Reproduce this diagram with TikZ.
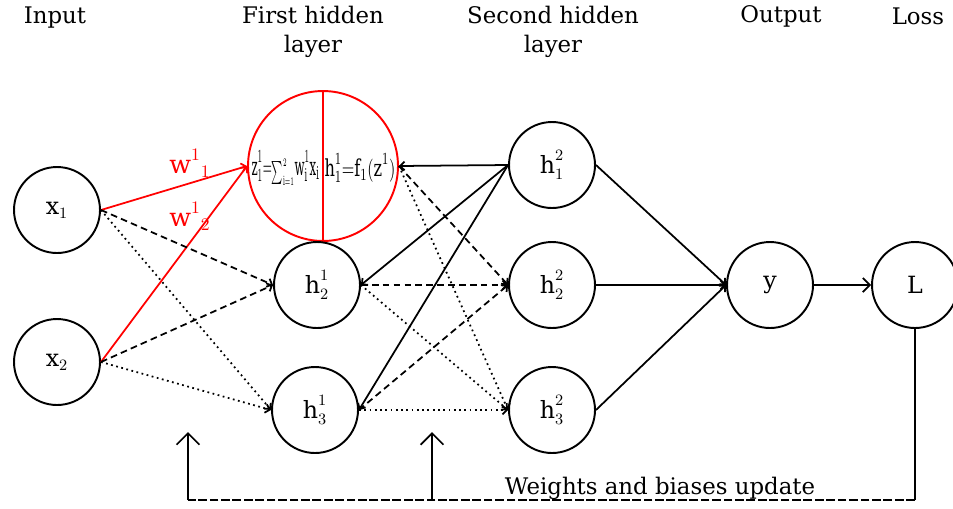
\documentclass[tikz,border=0pt]{standalone}
\usepackage{fontspec}
\setmainfont{DejaVu Serif}
\usetikzlibrary{arrows.meta}
\tikzset{
  neuron/.style={circle,draw,line width=1.1pt,minimum size=1.72cm,inner sep=0pt,font=\fontsize{13.5}{15}\selectfont},
  bignode/.style={circle,draw=red,line width=1.1pt,minimum size=3cm,inner sep=0pt},
  title/.style={font=\fontsize{13}{16.5}\selectfont,align=center,inner sep=0pt},
  conn/.style={line width=1pt,-{Straight Barb[length=2.5pt,width=5pt]}},
  redconn/.style={conn,draw=red},
  dashconn/.style={conn,dash pattern=on 3.8pt off 2.4pt},
  dotconn/.style={conn,dash pattern=on 1pt off 2pt},
  uparrow/.style={line width=1pt,-{Straight Barb[length=6.5pt,width=13pt]}},
  wlabel/.style={text=red,font=\fontsize{14.5}{16}\selectfont,inner sep=0pt},
  intext/.style={inner sep=0pt,font=\fontsize{11}{12}\selectfont}
}
\begin{document}
\begin{tikzpicture}[x=0.02cm,y=-0.02cm]
\useasboundingbox (0,0) rectangle (953,508);

% titles
\node[title] (tin) at (55,18) {Input};
\node[title] (tfh) at (313,32) {First hidden\\layer};
\node[title] (tsh) at (553,32) {Second hidden\\layer};
\node[title] (tout) at (781,16) {Output};
\node[title] (tloss) at (918,16) {Loss};

% neurons
\node[neuron] (x1) at (57,210) {$\mathrm{x}_1$};
\node[neuron] (x2) at (57,362) {$\mathrm{x}_2$};
\node[bignode] (h11) at (323,166) {};
\draw[red,line width=1.1pt] (h11.north) -- (h11.south);
\node[intext] (zt) at (285.5,168)
  {\resizebox{1.36cm}{0.5cm}{$\mathrm{z}^1_1{=}{\scriptscriptstyle\sum_{\mathrm{i}=1}^{2}}\mathrm{w}^1_{\mathrm{i}}\mathrm{x}_{\mathrm{i}}$}};
\node[intext] (ht) at (360,168)
  {\resizebox{1.42cm}{0.46cm}{$\mathrm{h}^1_1{=}\mathrm{f}_1(\mathrm{z}^1)$}};
\node[neuron] (h21) at (317,285) {$\mathrm{h}^1_2$};
\node[neuron] (h31) at (315,410) {$\mathrm{h}^1_3$};
\node[neuron] (h12) at (552,165) {$\mathrm{h}^2_1$};
\node[neuron] (h22) at (552,285) {$\mathrm{h}^2_2$};
\node[neuron] (h32) at (552,410) {$\mathrm{h}^2_3$};
\node[neuron] (y) at (770,285) {y};
\node[neuron] (L) at (915,285) {L};

% red weights
\draw[redconn] (x1.east) -- (h11.west);
\draw[redconn] (x2.east) -- (h11.west);
\node[wlabel] (w1) at (190,163) {$\mathrm{w}^1{}_1$};
\node[wlabel] (w2) at (190,216) {$\mathrm{w}^1{}_2$};

% input to first layer
\draw[dashconn] (x1.east) -- (h21.west);
\draw[dotconn] (x1.east) -- (h31.west);
\draw[dashconn] (x2.east) -- (h21.west);
\draw[dotconn] (x2.east) -- (h31.west);

% first to second layer
\draw[conn] (h12.west) -- (h11.east);
\draw[conn] (h12.west) -- (h21.east);
\draw[conn] (h12.west) -- (h31.east);
\draw[dashconn] (h11.east) -- (h22.west);
\draw[dashconn] (h21.east) -- (h22.west);
\draw[dashconn] (h31.east) -- (h22.west);
\draw[dotconn] (h11.east) -- (h32.west);
\draw[dotconn] (h21.east) -- (h32.west);
\draw[dotconn] (h31.east) -- (h32.west);

% second layer to output
\draw[conn] (h12.east) -- (y.west);
\draw[conn] (h22.east) -- (y.west);
\draw[conn] (h32.east) -- (y.west);
\draw[line width=1pt,-{Straight Barb[length=4pt,width=8pt]}] (y.east) -- (L.west);

% feedback
\coordinate (fbL) at (915,500);
\coordinate (fbA) at (188,500);
\coordinate (fbB) at (432,500);
\coordinate (upA) at (188,432);
\coordinate (upB) at (432,432);
\draw[line width=1pt] (L.south) -- (fbL);
\draw[line width=1pt,dash pattern=on 5pt off 1.5pt] (fbL) -- (fbA);
\draw[uparrow] (fbA) -- (upA);
\draw[uparrow] (fbB) -- (upB);
\node[title,anchor=base] (upd) at (660,494) {Weights and biases update};
\end{tikzpicture}
\end{document}
